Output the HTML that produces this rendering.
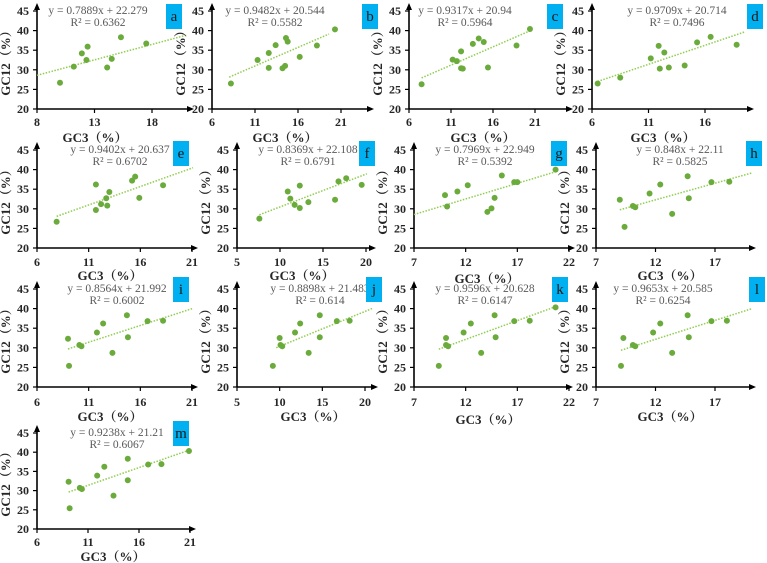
<!DOCTYPE html>
<html><head><meta charset="utf-8">
<style>
html,body{margin:0;padding:0;background:#fff;}
svg{display:block;}
.tk{font-family:"Liberation Serif",serif;font-size:12px;font-weight:bold;fill:#262626;}
.eq{font-family:"Liberation Serif",serif;font-size:11.5px;fill:#595959;}
.ttl{font-family:"Liberation Serif","Noto Serif CJK SC",serif;font-size:13px;font-weight:bold;fill:#262626;}
.lb{font-family:"Liberation Serif",serif;font-size:15px;fill:#1a1a1a;}
</style></head>
<body>
<svg id="chart" width="767" height="563" viewBox="0 0 767 563" xmlns="http://www.w3.org/2000/svg"></svg>
<script>
// ---- data ----
const panelLetters = ["a","b","c","d","e","f","g","h","i","j","k","l","m"];
const slopes = [0.7889,0.9482,0.9317,0.9709,0.9402,0.8369,0.7969,0.848,0.8564,0.8898,0.9596,0.9653,0.9238];
const intercepts = [22.279,20.544,20.94,20.714,20.637,22.108,22.949,22.11,21.992,21.483,20.628,20.585,21.21];
const rSquared = ["0.6362","0.5582","0.5964","0.7496","0.6702","0.6791","0.5392","0.5825","0.6002","0.614","0.6147","0.6254","0.6067"];
const gc3_a = [10.0,11.2,11.9,12.3,12.4,14.1,14.5,15.3,17.5];
const gc12_a = [26.7,30.8,34.2,32.5,35.9,30.6,32.8,38.3,36.7];
const gc3_b = [8.2,11.3,12.6,12.6,13.4,14.2,14.5,14.6,14.8,16.2,18.2,20.3];
const gc12_b = [26.5,32.5,34.3,30.5,36.3,30.4,31.0,38.1,37.2,33.3,36.2,40.3];
const gc3_c = [7.5,11.2,11.7,12.2,12.2,12.4,13.6,14.3,14.9,15.4,18.8,20.4];
const gc12_c = [26.3,32.6,32.2,34.7,30.4,30.3,36.6,38.0,37.1,30.6,36.2,40.4];
const gc3_d = [6.5,8.5,11.2,11.9,12.0,12.4,12.8,14.2,15.3,16.5,18.8];
const gc12_d = [26.5,28.0,32.9,36.1,30.3,34.4,30.6,31.1,37.0,38.4,36.4];
const gc3_e = [7.9,11.7,11.7,12.2,12.7,12.8,13.0,15.2,15.5,15.9,18.2];
const gc12_e = [26.7,36.2,29.7,31.2,32.7,30.8,34.3,37.2,38.2,32.8,36.0];
const gc3_f = [7.6,10.9,11.2,11.7,12.3,12.3,13.3,16.4,16.8,17.7,19.5];
const gc12_f = [27.5,34.4,32.6,31.0,35.9,30.2,31.7,32.3,37.0,37.8,36.1];
const gc3_g = [10.0,10.2,11.2,12.2,14.1,14.5,14.8,15.5,16.7,17.0,20.7];
const gc12_g = [33.5,30.6,34.4,36.0,29.2,30.1,32.8,38.5,36.8,36.8,40.0];
const gc3_h = [9.0,9.4,10.1,10.3,11.5,12.4,13.4,14.7,14.8,16.7,18.2];
const gc12_h = [32.3,25.4,30.7,30.4,33.9,36.2,28.7,38.3,32.7,36.8,36.9];
const gc3_i = [9.0,9.1,10.1,10.3,11.8,12.4,13.3,14.7,14.8,16.7,18.2];
const gc12_i = [32.3,25.4,30.7,30.4,33.9,36.2,28.7,38.3,32.7,36.8,36.9];
const gc3_j = [10.0,9.2,10.1,10.3,11.8,12.4,13.4,14.7,14.7,16.7,18.2];
const gc12_j = [32.5,25.4,30.7,30.4,33.9,36.2,28.7,38.3,32.7,36.8,36.9];
const gc3_k = [9.4,10.1,10.1,10.3,11.8,12.5,13.5,14.8,14.9,16.7,18.2,20.7];
const gc12_k = [25.4,32.5,30.7,30.4,33.9,36.2,28.7,38.3,32.7,36.8,36.9,40.3];
const gc3_l = [9.3,9.1,10.1,10.3,11.8,12.4,13.4,14.7,14.8,16.7,18.0];
const gc12_l = [32.5,25.4,30.7,30.4,33.9,36.2,28.7,38.3,32.7,36.8,36.9];
const gc3_m = [9.1,9.2,10.2,10.4,11.9,12.6,13.5,14.9,14.9,16.9,18.2,20.9];
const gc12_m = [32.3,25.4,30.7,30.4,33.9,36.2,28.7,38.3,32.7,36.8,36.9,40.3];
const xTicks_a=[8,13,18], xTicks_b=[6,11,16,21], xTicks_c=[6,11,16,21], xTicks_d=[6,11,16];
const xTicks_e=[6,11,16,21], xTicks_f=[5,10,15,20], xTicks_g=[7,12,17,22], xTicks_h=[7,12,17];
const xTicks_i=[6,11,16,21], xTicks_j=[5,10,15,20], xTicks_k=[7,12,17,22], xTicks_l=[7,12,17], xTicks_m=[6,11,16,21];
const yTicks = [20,25,30,35,40,45];
const trendFrom = [8,8,7.5,6.5,7.9,7.6,7,9,9,9.6,9.4,9.1,9.1];
const trendTo = [21,19.6,20.4,19.5,21.1,20.1,20.7,20.1,21.1,20.9,20.7,20.1,20.9];

const xsAll=[gc3_a,gc3_b,gc3_c,gc3_d,gc3_e,gc3_f,gc3_g,gc3_h,gc3_i,gc3_j,gc3_k,gc3_l,gc3_m];
const ysAll=[gc12_a,gc12_b,gc12_c,gc12_d,gc12_e,gc12_f,gc12_g,gc12_h,gc12_i,gc12_j,gc12_k,gc12_l,gc12_m];
const ticksAll=[xTicks_a,xTicks_b,xTicks_c,xTicks_d,xTicks_e,xTicks_f,xTicks_g,xTicks_h,xTicks_i,xTicks_j,xTicks_k,xTicks_l,xTicks_m];

// ---- layout (pixels) ----
const rows=[{t:11,b:109,tl:122,xt:137,bx:4},{t:150,b:248,tl:262,xt:275,bx:141},{t:289,b:387,tl:402,xt:416,bx:277},{t:433,b:529,tl:542,xt:556,bx:421}];
const L=[ // axisPx, v0, px1, v1, arrowEnd, row, eqX, boxX, xtitleX, titleDy
 [37,8,152,18,188,0,98,166,95,0],
 [212,6,341,21,368,0,275,362,285,0],
 [409,6,535,21,567,0,465,547,483,0],
 [592,6,705,16,748,0,677,747,663,0],
 [37,6,192,21,192,1,120,173,110,0],
 [237,5,366,20,370,1,308,359,302,0],
 [414,7,569,22,569,1,485,551,487,3],
 [596,7,715,17,750,1,680,746,670,0],
 [37,6,192,21,192,2,117,173,110,0],
 [237,5,365,20,372,2,320,366,313,0],
 [414,7,569,22,567,2,485,552,488,3],
 [596,7,715,17,750,2,663,749,670,0],
 [37,6,190,21,190,3,117,173,113,0]];

const NS="http://www.w3.org/2000/svg";
const svg=document.getElementById('chart');
function mk(tag,attrs,parent,text){const e=document.createElementNS(NS,tag);for(const k in attrs)e.setAttribute(k,attrs[k]);if(text!==undefined)e.textContent=text;parent.appendChild(e);return e;}

panelLetters.forEach((letter,i)=>{
  const c=L[i], r=rows[c[5]];
  const xs=v=>c[0]+(v-c[1])*(c[2]-c[0])/(c[3]-c[1]);
  const ys=v=>r.b-(v-20)*(r.b-r.t)/25;
  const g=mk('g',{},svg);
  
  
  const ya=mk('line',{x1:c[0],y1:r.b,x2:c[0],y2:r.t-6,stroke:'#000','stroke-width':1.6},g);
  
  
  mk('path',{d:`M${c[0]-3},${r.t-1} L${c[0]},${r.t-8} L${c[0]+3},${r.t-1}Z`,fill:'#000'},g);
  const xa=mk('line',{x1:c[0],y1:r.b,x2:c[4],y2:r.b,stroke:'#000','stroke-width':1.6},g);
  
  
  mk('path',{d:`M${c[4]-1},${r.b-3} L${c[4]+6},${r.b} L${c[4]-1},${r.b+3}Z`,fill:'#000'},g);
  yTicks.forEach(t=>{
    mk('line',{x1:c[0]-4,x2:c[0],y1:ys(t),y2:ys(t),stroke:'#000','stroke-width':1.2},g);
    const tl=mk('text',{x:c[0]-8,y:ys(t)+4,'text-anchor':'end',class:'tk'},g,String(t));
    
    
  });
  ticksAll[i].forEach(t=>{
    mk('line',{x1:xs(t),x2:xs(t),y1:r.b,y2:r.b+4,stroke:'#000','stroke-width':1.2},g);
    const tl=mk('text',{x:xs(t),y:r.tl+4,'text-anchor':'middle',class:'tk'},g,String(t));
    
    
  });
  const yt=mk('text',{x:0,y:0,'text-anchor':'middle',class:'ttl',transform:`translate(${c[0]-27},${(r.t+r.b)/2}) rotate(-90)`},g,'GC12（%）');
  
  
  const xt=mk('text',{x:c[8],y:r.xt+5+c[9],'text-anchor':'middle',class:'ttl'},g,'GC3（%）');
  
  
  const tr=mk('line',{x1:xs(trendFrom[i]),y1:ys(slopes[i]*trendFrom[i]+intercepts[i]),x2:xs(trendTo[i]),y2:ys(slopes[i]*trendTo[i]+intercepts[i]),stroke:'#8fce4f','stroke-width':1.5,'stroke-dasharray':'1.5,1.5'},g);
  
  
  xsAll[i].forEach((v,j)=>{
    const p=mk('circle',{cx:xs(v),cy:ys(ysAll[i][j]),r:3,fill:'#6aab3c'},g);
    
    
  });
  const e1=mk('text',{x:c[6],y:r.t+3,'text-anchor':'middle',class:'eq'},g,`y = ${slopes[i]}x + ${intercepts[i]}`);
  
  
  const e2=mk('text',{x:c[6],y:r.t+15,'text-anchor':'middle',class:'eq'},g,`R² = ${rSquared[i]}`);
  
  
  const bx=mk('rect',{x:c[7],y:r.bx,width:16,height:25,fill:'#00b0f0'},g);
  
  
  const bt=mk('text',{x:c[7]+8,y:r.bx+17,'text-anchor':'middle',class:'lb'},g,letter);
  
  
});
</script>
</body></html>
